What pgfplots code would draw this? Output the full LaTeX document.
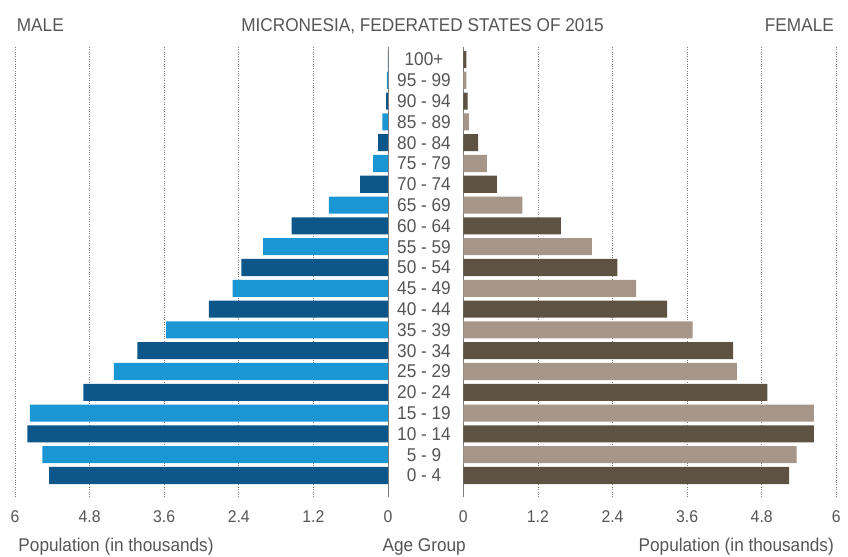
\documentclass[border=0pt]{standalone}
\usepackage{fontspec}
\setmainfont{Liberation Sans}[FakeStretch=0.93]
\usepackage{pgfplots}
\pgfplotsset{compat=1.18}
\definecolor{mdark}{RGB}{12,86,138}
\definecolor{mlight}{RGB}{27,150,213}
\definecolor{fdark}{RGB}{94,82,66}
\definecolor{flight}{RGB}{166,149,137}
\definecolor{txt}{RGB}{85,85,85}
\definecolor{gridc}{RGB}{125,125,125}
\begin{document}
\begin{tikzpicture}
\useasboundingbox (0bp,0bp) rectangle (848bp,557bp);
\pgfplotsset{pyr/.style={
  scale only axis, width=373bp, height=449.7bp,
  anchor=south west,
  xmin=0, xmax=6, ymin=-1.02, ymax=20.6,
  xbar, bar width=0.82, bar shift=0pt,
  axis line style={draw=none},
  major tick length=0pt,
  /pgf/number format/assume math mode=true,
  xtick={1.2,2.4,3.6,4.8,6}, xticklabels={1.2,2.4,3.6,4.8,6},
  extra x ticks={0}, extra x tick labels={0},
  extra x tick style={xmajorgrids=true, major grid style={solid, gridc, line width=0.9bp}},
  xmajorgrids=true,
  major grid style={dotted, gridc, line width=0.7bp},
  xticklabel style={anchor=base, yshift=-26.3bp, font=\fontsize{17bp}{20bp}\selectfont, text=txt},
  every axis plot/.append style={draw=none},
}}
% Male (left)
\begin{axis}[pyr, at={(15bp,60.3bp)}, x dir=reverse, ytick=\empty]
\addplot[fill=mdark] coordinates {
(5.45,0) (5.80,2) (4.90,4) (4.03,6) (2.88,8) (2.36,10) (1.55,12) (0.45,14) (0.16,16) (0.03,18) (0.00,20)};
\addplot[fill=mlight] coordinates {
(5.56,1) (5.76,3) (4.41,5) (3.57,7) (2.50,9) (2.01,11) (0.95,13) (0.24,15) (0.09,17) (0.02,19)};
\end{axis}
% Female (right)
\begin{axis}[pyr, at={(463.3bp,60.3bp)},
  ytick={0,...,20},
  yticklabels={0 - 4,5 - 9,10 - 14,15 - 19,20 - 24,25 - 29,30 - 34,35 - 39,40 - 44,45 - 49,50 - 54,55 - 59,60 - 64,65 - 69,70 - 74,75 - 79,80 - 84,85 - 89,90 - 94,95 - 99,100+},
  yticklabel style={anchor=center, xshift=-39.3bp, font=\fontsize{18.5bp}{20bp}\selectfont, text=txt}]
\addplot[fill=fdark] coordinates {
(5.24,0) (5.64,2) (4.89,4) (4.34,6) (3.28,8) (2.48,10) (1.57,12) (0.54,14) (0.24,16) (0.07,18) (0.05,20)};
\addplot[fill=flight] coordinates {
(5.36,1) (5.64,3) (4.40,5) (3.69,7) (2.78,9) (2.07,11) (0.95,13) (0.38,15) (0.09,17) (0.05,19)};
\end{axis}
\begin{scope}[every node/.style={inner sep=0pt, text=txt, font=\fontsize{18.5bp}{20bp}\selectfont}]
\node[anchor=base west] at (16.7bp,525.3bp) {MALE};
\node[anchor=base] at (422.5bp,525.3bp) {MICRONESIA, FEDERATED STATES OF 2015};
\node[anchor=base east] at (834bp,525.3bp) {FEMALE};
\node[anchor=base west] at (18.3bp,6bp) {Population (in thousands)};
\node[anchor=base] at (424.2bp,6bp) {Age Group};
\node[anchor=base east] at (834bp,6bp) {Population (in thousands)};
\end{scope}
\end{tikzpicture}
\end{document}
